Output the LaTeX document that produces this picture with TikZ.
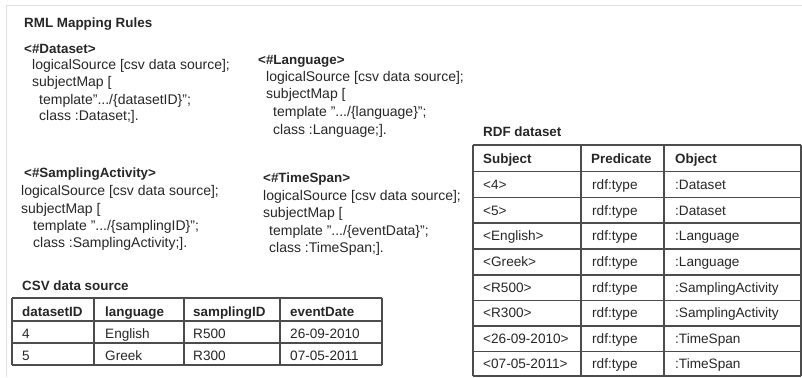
\documentclass[tikz,border=0pt]{standalone}
\usepackage{fontspec}
\setmainfont{Liberation Sans}
\usepackage{xcolor}
\usepackage{tikz}

\begin{document}
\begin{tikzpicture}
      [ x=1pt, y=-1pt,
        txt/.style={anchor=base west, inner sep=0pt, text=black!85,
                    font=\fontsize{14}{16}\selectfont},
        cell/.style={txt, font=\fontsize{13.6}{16}\selectfont},
        hdr/.style={txt, font=\fontsize{13.4}{16}\selectfont\bfseries},
        rule/.style={draw=black!70, line width=1.1pt},
        frame/.style={draw=black!12, line width=1pt}
      ]
      \useasboundingbox (0,0) rectangle (802,377);
      \draw[frame] (6,377) -- (6,6) -- (802,6);

      \node[hdr] (title) at (24,28) {RML Mapping Rules};

      % mapping rules
      \node[hdr] (ds)   at (24,54)  {<\#Dataset>};
      \node[txt] (ds1)  at (32,70)  {logicalSource [csv data source];};
      \node[txt] (ds2)  at (32,87)  {subjectMap [};
      \node[txt] (ds3)  at (39,104) {template".../\{datasetID\}";};
      \node[txt] (ds4)  at (39,121) {class :Dataset;].};

      \node[hdr] (lg)   at (258,65)  {<\#Language>};
      \node[txt] (lg1)  at (266,82)  {logicalSource [csv data source];};
      \node[txt] (lg2)  at (266,99)  {subjectMap [};
      \node[txt] (lg3)  at (273,117) {template ".../\{language\}";};
      \node[txt] (lg4)  at (273,134) {class :Language;].};

      \node[hdr] (sa)   at (24,177) {<\#SamplingActivity>};
      \node[txt] (sa1)  at (21,195) {logicalSource [csv data source];};
      \node[txt] (sa2)  at (21,213) {subjectMap [};
      \node[txt] (sa3)  at (33,230) {template ".../\{samplingID\}";};
      \node[txt] (sa4)  at (33,247) {class :SamplingActivity;].};

      \node[hdr] (ts)   at (263,182) {<\#TimeSpan>};
      \node[txt] (ts1)  at (263,200) {logicalSource [csv data source];};
      \node[txt] (ts2)  at (263,217) {subjectMap [};
      \node[txt] (ts3)  at (269,235) {template ".../\{eventData\}";};
      \node[txt] (ts4)  at (269,252) {class :TimeSpan;].};

      % csv table
      \node[hdr] (csv) at (22,290) {CSV data source};
      \foreach \y in {298,321,343,365}
        \draw[rule] (12,\y) -- (382,\y);
      \foreach \x in {12,94,184,280,382}
        \draw[rule] (\x,298) -- (\x,365);
      \node[hdr] (cA) at (22,316)  {datasetID};
      \node[hdr] (cB) at (105,316) {language};
      \node[hdr] (cC) at (193,316) {samplingID};
      \node[hdr] (cD) at (290,316) {eventDate};
      \foreach \a/\b/\c/\d [count=\i] in {4/English/R500/26-09-2010,
                                           5/Greek/R300/07-05-2011}
      {
        \node[cell] (cA\i) at (22,316+22*\i)  {\a};
        \node[cell] (cB\i) at (105,316+22*\i) {\b};
        \node[cell] (cC\i) at (193,316+22*\i) {\c};
        \node[cell] (cD\i) at (290,316+22*\i) {\d};
      }

      % rdf table
      \node[hdr] (rdf) at (483,136) {RDF dataset};
      \foreach \y in {145,171.5,197.5,223,249,275,300.5,326,351.5,376}
        \draw[rule] (473,\y) -- (801,\y);
      \foreach \x in {473,581,664,801}
        \draw[rule] (\x,145) -- (\x,376);
      \node[hdr] (rS) at (483,163) {Subject};
      \node[hdr] (rP) at (591,163) {Predicate};
      \node[hdr] (rO) at (675,163) {Object};
      \foreach \s/\o [count=\i] in {<4>/:Dataset, <5>/:Dataset,
          <English>/:Language, <Greek>/:Language,
          <R500>/:SamplingActivity, <R300>/:SamplingActivity,
          <26-09-2010>/:TimeSpan, <07-05-2011>/:TimeSpan}
      {
        \node[cell] (rS\i) at (483,164+25.6*\i) {\s};
        \node[cell] (rP\i) at (592,164+25.6*\i) {rdf:type};
        \node[cell] (rO\i) at (675,164+25.6*\i) {\o};
      }
    \end{tikzpicture}
\end{document}
